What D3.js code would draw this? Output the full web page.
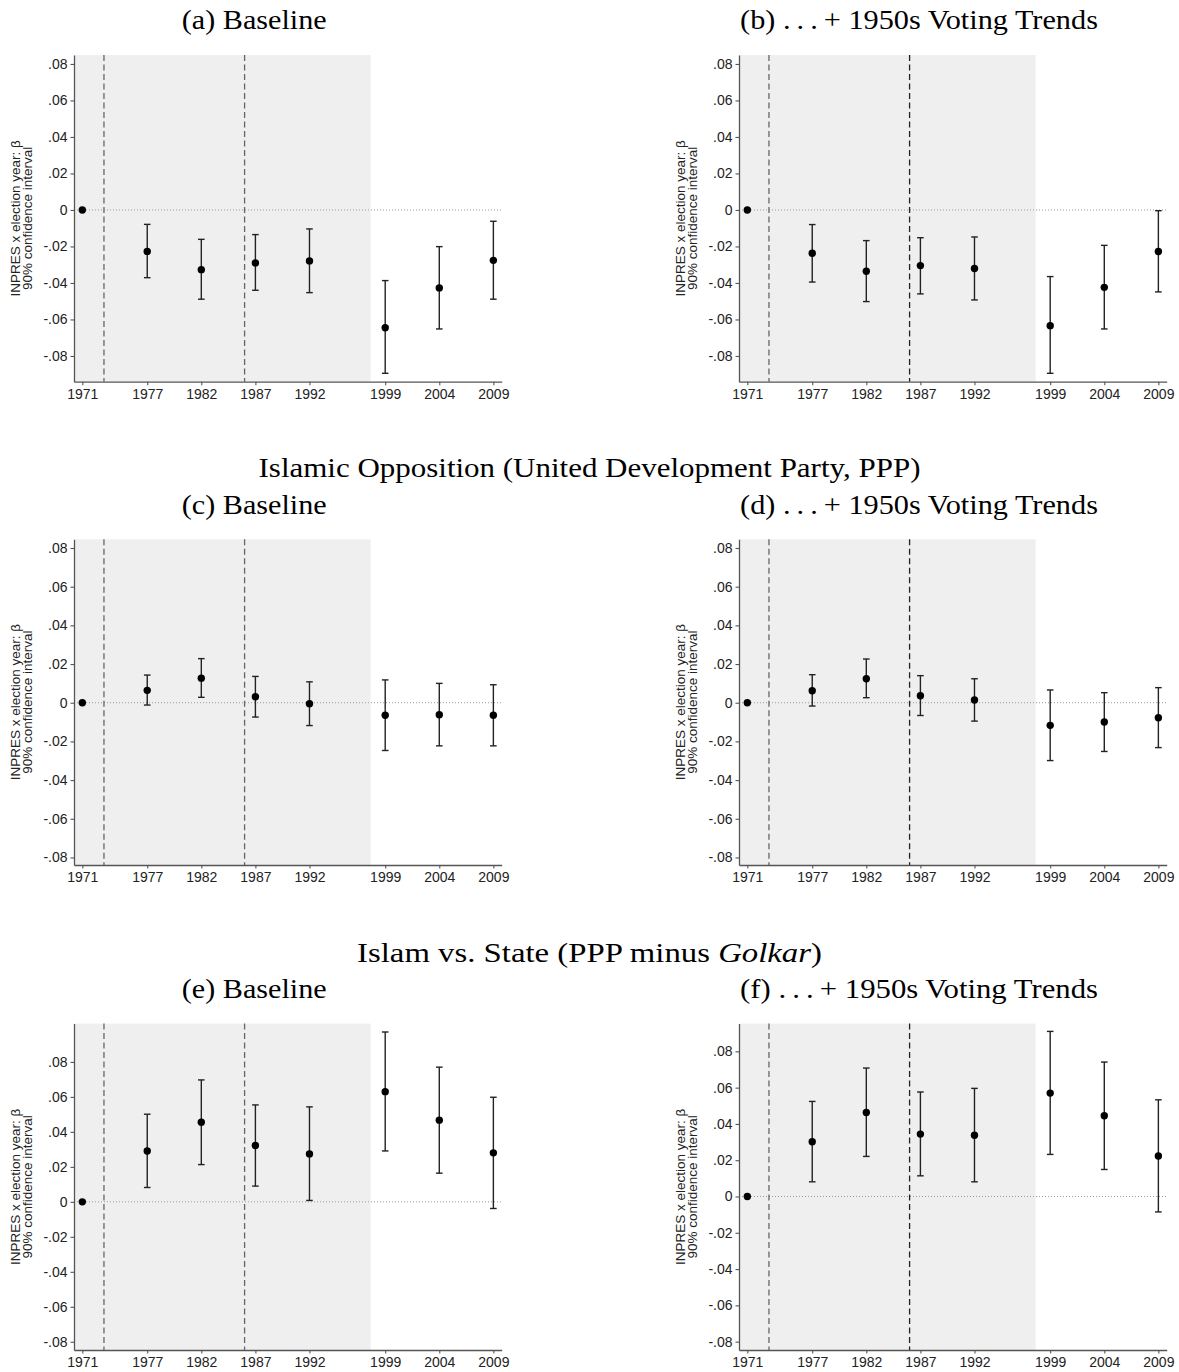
<!DOCTYPE html>
<html>
<head>
<meta charset="utf-8">
<script src="https://cdn.jsdelivr.net/npm/d3@7"></script>
<style>
  html, body { margin: 0; padding: 0; background: #fff; }
  svg { display: block; }
</style>
</head>
<body>
<svg id="chart" width="1179" height="1372"></svg>
<script>
// ---------------- DATA ----------------
const years = [1971, 1977, 1982, 1987, 1992, 1999, 2004, 2009];
const xTickLabels = ["1971", "1977", "1982", "1987", "1992", "1999", "2004", "2009"];
const yTicks = [0.08, 0.06, 0.04, 0.02, 0, -0.02, -0.04, -0.06, -0.08];
const yTickLabels = [".08", ".06", ".04", ".02", "0", "-.02", "-.04", "-.06", "-.08"];

// (a) Baseline – Golkar
const est_a = [0, -0.0227, -0.0327, -0.0290, -0.0279, -0.0645, -0.0427, -0.0276];
const lo_a  = [null, -0.0371, -0.0489, -0.0440, -0.0453, -0.0895, -0.0652, -0.0489];
const hi_a  = [null, -0.0079, -0.0161, -0.0135, -0.0104, -0.0387, -0.0201, -0.0062];
// (b) + 1950s trends
const est_b = [0, -0.0237, -0.0336, -0.0305, -0.0321, -0.0634, -0.0424, -0.0228];
const lo_b  = [null, -0.0395, -0.0502, -0.0460, -0.0493, -0.0895, -0.0652, -0.0449];
const hi_b  = [null, -0.0080, -0.0168, -0.0152, -0.0148, -0.0365, -0.0194, -0.0004];
// (c) Baseline – PPP
const est_c = [0, 0.0064, 0.0127, 0.0031, -0.0005, -0.0065, -0.0062, -0.0065];
const lo_c  = [null, -0.0012, 0.0028, -0.0074, -0.0118, -0.0247, -0.0223, -0.0223];
const hi_c  = [null, 0.0143, 0.0228, 0.0136, 0.0108, 0.0118, 0.0100, 0.0093];
// (d) + 1950s trends
const est_d = [0, 0.0062, 0.0124, 0.0036, 0.0014, -0.0117, -0.0100, -0.0078];
const lo_d  = [null, -0.0017, 0.0026, -0.0066, -0.0095, -0.0299, -0.0252, -0.0232];
const hi_d  = [null, 0.0145, 0.0226, 0.0140, 0.0124, 0.0066, 0.0052, 0.0078];
// (e) Baseline – PPP minus Golkar
const est_e = [0, 0.0291, 0.0455, 0.0322, 0.0274, 0.0630, 0.0467, 0.0280];
const lo_e  = [null, 0.0082, 0.0213, 0.0090, 0.0008, 0.0291, 0.0164, -0.0038];
const hi_e  = [null, 0.0501, 0.0697, 0.0554, 0.0543, 0.0971, 0.0770, 0.0598];
// (f) + 1950s trends
const est_f = [0, 0.0302, 0.0463, 0.0344, 0.0338, 0.0570, 0.0445, 0.0223];
const lo_f  = [null, 0.0081, 0.0221, 0.0114, 0.0081, 0.0232, 0.0149, -0.0085];
const hi_f  = [null, 0.0524, 0.0708, 0.0576, 0.0596, 0.0910, 0.0741, 0.0533];

const subtitles = ["(a) Baseline", "(b) .\u2009.\u2009.\u2009+ 1950s Voting Trends",
                   "(c) Baseline", "(d) .\u2009.\u2009.\u2009+ 1950s Voting Trends",
                   "(e) Baseline", "(f) .\u2009.\u2009.\u2009+ 1950s Voting Trends"];
const header2 = "Islamic Opposition (United Development Party, PPP)";
const header3 = ["Islam vs. State (PPP minus ", "Golkar", ")"];
const yLabelLines = ["INPRES x election year: \u03b2", "90% confidence interval"];
const shadeYears = [1970.23, 1997.65];
const dashYears = [1973, 1986];
const xDomain = [1970.23, 2009.77];

// ---------------- LAYOUT ----------------
const svg = d3.select("#chart");
const plotW = 427.7;
const colLeft = [74, 739];
const colTitleX = [254.2, 919];
const rows = [
  {top: 55, bottom: 381.7, titleY: 29.3, titleW: [145, 358]},
  {top: 539.3, bottom: 865, titleY: 514, titleW: [145, 358]},
  {top: 1023.6, bottom: 1350, titleY: 998.3, titleW: [145, 358]}
];
const panels = [
  {est: est_a, lo: lo_a, hi: hi_a, dom: [-0.0941, 0.0849], row: 0, col: 0},
  {est: est_b, lo: lo_b, hi: hi_b, dom: [-0.0941, 0.0849], row: 0, col: 1},
  {est: est_c, lo: lo_c, hi: hi_c, dom: [-0.0839, 0.0845], row: 1, col: 0},
  {est: est_d, lo: lo_d, hi: hi_d, dom: [-0.0839, 0.0845], row: 1, col: 1},
  {est: est_e, lo: lo_e, hi: hi_e, dom: [-0.0847, 0.1019], row: 2, col: 0},
  {est: est_f, lo: lo_f, hi: hi_f, dom: [-0.0846, 0.0953], row: 2, col: 1}
];

const serif = "'Liberation Serif', 'Times New Roman', serif";
const sans = "'Liberation Sans', Arial, Helvetica, sans-serif";

function fitText(sel, cx, y, targetW) {
  const node = sel.node();
  const w = node.getComputedTextLength();
  sel.attr("text-anchor", "middle")
     .attr("transform", `translate(${cx},${y}) scale(${targetW / w},1)`);
}

panels.forEach((p, i) => {
  const r = rows[p.row];
  const left = colLeft[p.col];
  const x = d3.scaleLinear().domain(xDomain).range([left, left + plotW]);
  const y = d3.scaleLinear().domain(p.dom).range([r.bottom, r.top]);
  const g = svg.append("g");

  // subtitle
  const t = g.append("text").text(subtitles[i])
    .attr("font-family", serif).attr("font-size", 27).attr("fill", "#000");
  fitText(t, colTitleX[p.col], r.titleY, r.titleW[p.col]);

  // shaded region
  g.append("rect")
    .attr("x", x(shadeYears[0])).attr("y", r.top)
    .attr("width", x(shadeYears[1]) - x(shadeYears[0]))
    .attr("height", r.bottom - r.top)
    .attr("fill", "#efefef");

  // zero line
  g.append("line")
    .attr("x1", x(xDomain[0])).attr("x2", x(xDomain[1]))
    .attr("y1", y(0)).attr("y2", y(0))
    .attr("stroke", "#9a9a9a").attr("stroke-width", 1)
    .attr("stroke-dasharray", "1,2");

  // dashed verticals
  dashYears.forEach((yr, k) => {
    g.append("line")
      .attr("x1", x(yr)).attr("x2", x(yr))
      .attr("y1", r.top).attr("y2", r.bottom)
      .attr("stroke", (p.col === 1 && k === 1) ? "#222" : "#666")
      .attr("stroke-width", 1.3)
      .attr("stroke-dasharray", "6,3.5");
  });

  // axes
  const yAxis = d3.axisLeft(y).tickValues(yTicks).tickSize(3.5).tickSizeOuter(0).tickPadding(3)
    .tickFormat((d, k) => yTickLabels[k]);
  const ya = g.append("g").attr("transform", `translate(${left},0)`).call(yAxis);
  const xAxis = d3.axisBottom(x).tickValues(years).tickSize(3.5).tickSizeOuter(0).tickPadding(3.5)
    .tickFormat((d, k) => xTickLabels[k]);
  const xa = g.append("g").attr("transform", `translate(0,${r.bottom})`).call(xAxis);
  [ya, xa].forEach(a => {
    a.select(".domain").attr("stroke", "#555").attr("stroke-width", 1.3);
    a.selectAll(".tick line").attr("stroke", "#555").attr("stroke-width", 1.1);
    a.selectAll(".tick text").attr("font-family", sans).attr("font-size", 14).attr("fill", "#222");
  });

  // y label
  const cy = (r.top + r.bottom) / 2;
  yLabelLines.forEach((ln, k) => {
    g.append("text").text(ln)
      .attr("font-family", sans).attr("font-size", 13.5).attr("fill", "#222")
      .attr("text-anchor", "middle")
      .attr("transform", `translate(${left - 54.5 + k * 12.3},${cy}) rotate(-90)`);
  });

  // error bars
  const ci = years.map((yr, k) => ({yr, lo: p.lo[k], hi: p.hi[k]})).filter(d => d.lo !== null);
  const cap = 3.3;
  const eb = g.append("g").attr("stroke", "#222").attr("stroke-width", 1.4);
  eb.selectAll("line.v").data(ci).join("line")
    .attr("x1", d => x(d.yr)).attr("x2", d => x(d.yr))
    .attr("y1", d => y(d.lo)).attr("y2", d => y(d.hi));
  eb.selectAll("line.t").data(ci).join("line").attr("class", "t")
    .attr("x1", d => x(d.yr) - cap).attr("x2", d => x(d.yr) + cap)
    .attr("y1", d => y(d.hi)).attr("y2", d => y(d.hi));
  eb.selectAll("line.b").data(ci).join("line").attr("class", "b")
    .attr("x1", d => x(d.yr) - cap).attr("x2", d => x(d.yr) + cap)
    .attr("y1", d => y(d.lo)).attr("y2", d => y(d.lo));

  // points
  g.selectAll("circle").data(years.map((yr, k) => ({yr, v: p.est[k]}))).join("circle")
    .attr("cx", d => x(d.yr)).attr("cy", d => y(d.v)).attr("r", 3.7).attr("fill", "#000");
});

// section headers
const h2 = svg.append("text").text(header2)
  .attr("font-family", serif).attr("font-size", 27).attr("fill", "#000");
fitText(h2, 589.5, 477.4, 662);

const h3 = svg.append("text").attr("font-family", serif).attr("font-size", 27).attr("fill", "#000");
h3.append("tspan").text(header3[0]);
h3.append("tspan").text(header3[1]).attr("font-style", "italic");
h3.append("tspan").text(header3[2]);
fitText(h3, 589.5, 961.5, 465);
</script>
</body>
</html>
